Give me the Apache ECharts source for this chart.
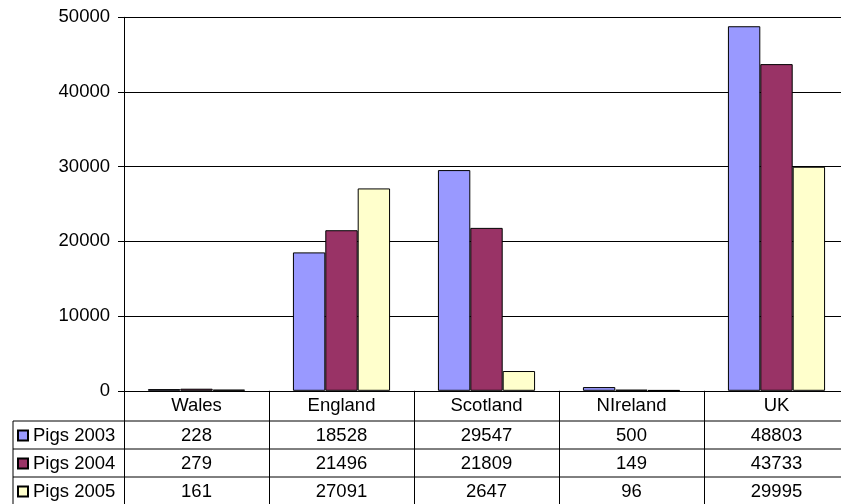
<!DOCTYPE html>
<html>
<head>
<meta charset="utf-8">
<script src="https://cdn.jsdelivr.net/npm/echarts@6/dist/echarts.min.js"></script>
<style>
html,body{margin:0;padding:0;background:#fff;}
#chart{width:841px;height:504px;}
</style>
</head>
<body>
<div id="chart"></div>
<script>
const categories = ['Wales', 'England', 'Scotland', 'NIreland', 'UK'];
const seriesNames = ['Pigs 2003', 'Pigs 2004', 'Pigs 2005'];
const pigs2003 = [228, 18528, 29547, 500, 48803];
const pigs2004 = [279, 21496, 21809, 149, 43733];
const pigs2005 = [161, 27091, 2647, 96, 29995];
const yTicks = [0, 10000, 20000, 30000, 40000, 50000];

const colors = ['#9999FF', '#993366', '#FFFFCC'];
const allValues = [pigs2003, pigs2004, pigs2005];
const FONT = '"Liberation Sans", Arial, sans-serif';
const FS = 18.5;

const chart = echarts.init(document.getElementById('chart'), null, {renderer: 'canvas'});

const rowMargins = [45, 73, 101];
const tableAxes = allValues.map((vals, i) => ({
  type: 'category',
  data: vals.map(String),
  position: 'bottom',
  gridIndex: 0,
  axisLine: {show: false},
  axisTick: {show: false},
  splitLine: {show: false},
  axisLabel: {
    interval: 0, margin: rowMargins[i], verticalAlign: 'middle',
    color: '#000', fontFamily: FONT, fontSize: FS
  }
}));

const hLine = (y, x1, x2) => ({
  type: 'line', silent: true, z: 100,
  shape: {x1: x1, y1: y, x2: x2, y2: y},
  style: {stroke: '#000', lineWidth: 1}
});
const vLine = (x, y1, y2) => ({
  type: 'line', silent: true, z: 100,
  shape: {x1: x, y1: y1, x2: x, y2: y2},
  style: {stroke: '#000', lineWidth: 1}
});

const option = {
  animation: false,
  backgroundColor: '#fff',
  textStyle: {fontFamily: FONT},
  grid: {left: 124, top: 17.3, width: 725, height: 373.5, containLabel: false, outerBoundsMode: 'none'},
  legend: {
    orient: 'vertical',
    left: 17, top: 426, height: 120, padding: 0,
    itemWidth: 10, itemHeight: 10, itemGap: 9,
    icon: 'rect',
    data: seriesNames,
    textStyle: {color: '#000', fontFamily: FONT, fontSize: FS, lineHeight: 18}
  },
  xAxis: [{
    type: 'category',
    data: categories,
    position: 'bottom',
    gridIndex: 0,
    axisLine: {show: true, lineStyle: {color: '#000', width: 1}},
    axisTick: {show: true, length: 115, interval: 0, lineStyle: {color: '#000', width: 1}},
    axisLabel: {
      interval: 0, margin: 15.5, verticalAlign: 'middle',
      color: '#000', fontFamily: FONT, fontSize: FS
    }
  }].concat(tableAxes),
  yAxis: {
    type: 'value',
    min: yTicks[0], max: yTicks[yTicks.length - 1], interval: 10000,
    axisLine: {show: true, lineStyle: {color: '#000', width: 1}},
    axisTick: {show: true, length: 6, lineStyle: {color: '#000'}},
    splitLine: {show: true, lineStyle: {color: '#000', width: 1}},
    axisLabel: {margin: 14, color: '#000', fontFamily: FONT, fontSize: FS, formatter: v => String(v)}
  },
  series: allValues.map((vals, i) => ({
    name: seriesNames[i],
    type: 'bar',
    xAxisIndex: 0,
    data: vals,
    barGap: '0%',
    barCategoryGap: '33%',
    itemStyle: {color: colors[i], borderColor: '#000', borderWidth: 1}
  })),
  graphic: [
    hLine(421, 13, 841),
    hLine(449, 13, 841),
    hLine(477, 13, 841),
    vLine(13, 421, 504)
  ]
};

chart.setOption(option);
</script>
</body>
</html>
